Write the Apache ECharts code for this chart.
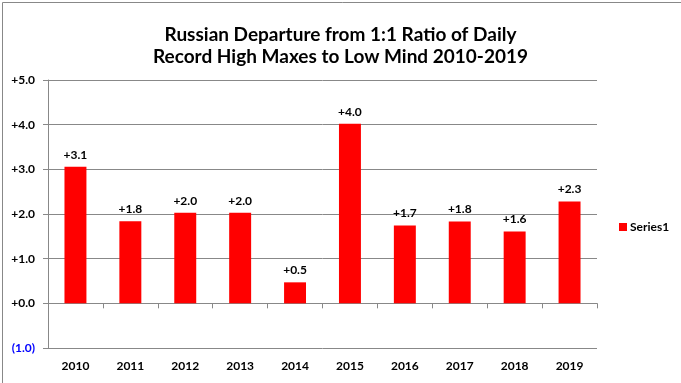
<!DOCTYPE html>
<html>
<head>
<meta charset="utf-8">
<script src="https://cdn.jsdelivr.net/npm/echarts@6/dist/echarts.min.js"></script>
<style>
html,body{margin:0;padding:0;background:#fff;}
#c{width:681px;height:383px;}
</style>
</head>
<body>
<div id="c"></div>
<script>
const categories = ['2010','2011','2012','2013','2014','2015','2016','2017','2018','2019'];
const series1 = [3.06, 1.84, 2.03, 2.03, 0.47, 4.02, 1.74, 1.83, 1.61, 2.28];
const yTicks = [-1, 0, 1, 2, 3, 4, 5];
const titleLines = ['Russian Departure from 1:1 Ratio of Daily', 'Record High Maxes to Low Mind 2010-2019'];

const FONT = 'Lato, "Open Sans", sans-serif';
const chart = echarts.init(document.getElementById('c'), null, {renderer: 'canvas'});
const fmt = v => v < 0 ? '{neg|(' + Math.abs(v).toFixed(1) + ')}' : '+' + v.toFixed(1);

chart.setOption({
  animation: false,
  backgroundColor: '#fff',
  graphic: [{
    type: 'rect', left: 0, top: 0, z: -10,
    shape: {x: 0.5, y: 0.5, width: 680, height: 382},
    style: {fill: 'none', stroke: '#888', lineWidth: 1}
  }],
  title: {
    text: titleLines.join('\n'),
    left: 'center',
    top: 19,
    textStyle: {fontFamily: FONT, fontSize: 19, fontWeight: 'bold', color: '#000', lineHeight: 22}
  },
  legend: {
    orient: 'vertical',
    left: 614,
    top: 216,
    itemWidth: 8,
    itemHeight: 8,
    itemGap: 4,
    icon: 'rect',
    textStyle: {fontFamily: FONT, fontSize: 12, fontWeight: 'bold', color: '#000', padding: [0,0,0,-2]},
    data: ['Series1']
  },
  grid: {left: 48, right: 84, top: 80, bottom: 35, containLabel: false},
  xAxis: [{
    type: 'category',
    data: categories,
    position: 'bottom',
    axisLine: {show: false, onZero: false},
    axisTick: {show: false},
    axisLabel: {margin: 12, fontFamily: FONT, fontSize: 12, fontWeight: 'bold', color: '#000'}
  }, {
    type: 'category',
    data: categories,
    position: 'bottom',
    axisLine: {show: true, onZero: true, lineStyle: {color: '#888', width: 1}},
    axisTick: {show: true, length: 5, inside: false, lineStyle: {color: '#888'}},
    axisLabel: {show: false}
  }],
  yAxis: {
    type: 'value',
    min: -1, max: 5, interval: 1,
    axisLine: {show: true, lineStyle: {color: '#888', width: 1}},
    axisTick: {show: true, length: 5, lineStyle: {color: '#888'}},
    splitLine: {show: true, lineStyle: {color: '#888', width: 1}},
    axisLabel: {
      margin: 13,
      formatter: v => fmt(v),
      fontFamily: FONT, fontSize: 12, fontWeight: 'bold', color: '#000',
      rich: {neg: {color: '#0000ff', fontFamily: FONT, fontSize: 12, fontWeight: 'bold'}}
    }
  },
  series: [{
    name: 'Series1',
    type: 'bar',
    xAxisIndex: 0,
    data: series1,
    barWidth: '40%',
    itemStyle: {color: '#ff0000'},
    label: {
      show: true, position: 'top', distance: 6,
      formatter: p => '+' + p.value.toFixed(1),
      fontFamily: FONT, fontSize: 12, fontWeight: 'bold', color: '#000'
    }
  }]
});
</script>
</body>
</html>
